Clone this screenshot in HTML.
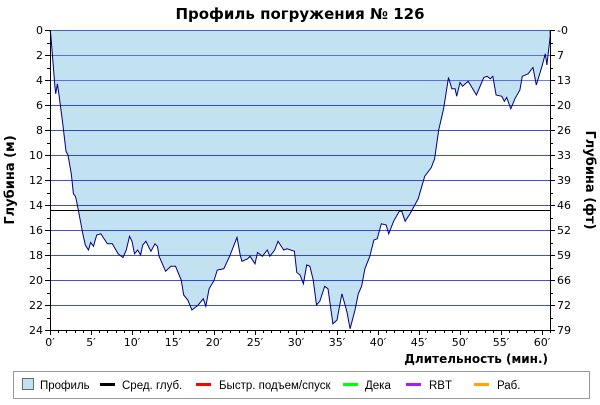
<!DOCTYPE html>
<html><head><meta charset="utf-8"><style>
body{margin:0;background:#fff}
svg text{font-family:"DejaVu Sans","Liberation Sans",sans-serif}
svg .lg{font-family:"Liberation Sans","DejaVu Sans",sans-serif}
</style></head><body>
<svg id="chart" width="600" height="400" xmlns="http://www.w3.org/2000/svg">
<text x="300" y="19" text-anchor="middle" font-size="15" font-weight="bold">Профиль погружения № 126</text>
<g id="grid"></g>
<g id="plot"></g>
<g id="axes"></g>
<text transform="translate(14,180) rotate(-90)" text-anchor="middle" font-size="13" font-weight="bold">Глубина (м)</text>
<text transform="translate(586,180) rotate(90)" text-anchor="middle" font-size="13" font-weight="bold">Глубина (фт)</text>
<text x="548" y="363" text-anchor="end" font-size="12" font-weight="bold">Длительность (мин.)</text>
<g>
<rect x="13.5" y="371.5" width="576" height="27" fill="#fff" stroke="#999"/>
<rect x="22.5" y="378.5" width="11" height="11" fill="#c2e2f2" stroke="#666"/>
<text class="lg" x="40" y="389" font-size="11.5">Профиль</text>
<rect x="100" y="383" width="15" height="3" fill="#000"/>
<text class="lg" x="122" y="389" font-size="11.5">Сред. глуб.</text>
<rect x="196" y="383" width="15" height="3" fill="#f00"/>
<text class="lg" x="219" y="389" font-size="11.5">Быстр. подъем/спуск</text>
<rect x="343" y="383" width="15" height="3" fill="#0f0"/>
<text class="lg" x="365" y="389" font-size="11.5">Дека</text>
<rect x="406" y="383" width="15" height="3" fill="#a020f0"/>
<text class="lg" x="429" y="389" font-size="11.5">RBT</text>
<rect x="474" y="383" width="15" height="3" fill="#ffa500"/>
<text class="lg" x="497" y="389" font-size="11.5">Раб.</text>
</g>
</svg>
<script>
const times=[0,0.1,0.3,0.6,0.7,0.9,1.1,1.5,1.95,2.2,2.6,2.85,3.1,3.25,3.6,4.0,4.3,4.7,4.95,5.3,5.7,6.2,7.0,7.6,8.3,8.9,9.3,9.7,10.0,10.3,10.7,11.05,11.3,11.7,12.3,12.8,13.1,13.3,14.1,14.75,15.3,16.0,16.3,16.8,17.3,18.0,18.7,19.0,19.4,20.0,20.4,21.2,21.9,22.8,23.2,23.4,24.1,24.4,25.0,25.3,25.9,26.5,26.8,27.4,27.8,28.5,28.9,29.8,30.1,30.5,30.9,31.3,31.7,32.1,32.5,32.9,33.5,33.9,34.5,35.0,35.6,36.2,36.6,37.2,37.6,38.0,38.4,39.0,39.5,39.9,40.4,41.0,41.3,41.9,42.6,42.9,43.3,43.9,44.9,45.7,46.5,46.9,47.4,48.0,48.6,49.0,49.4,49.6,50.0,50.3,51.0,52.0,52.9,53.3,53.7,54.0,54.4,55.1,55.4,55.7,56.2,56.7,57.3,57.6,58.3,58.9,59.3,60.0,60.4,60.6,61.0,61.0];
const depths=[0,0.4,2.1,4.5,5.1,4.3,5.2,7.2,9.7,10,11.5,13.1,13.3,13.7,14.9,16.3,17.2,17.6,17.0,17.3,16.4,16.3,17.1,17.1,17.9,18.2,17.6,16.5,16.9,17.9,17.6,18.0,17.2,16.9,17.7,17.1,17.3,18.1,19.3,18.9,18.9,20,21.2,21.6,22.4,22.05,21.5,22.1,20.7,20.05,19.2,19.1,18.1,16.6,18.0,18.5,18.3,18.1,18.7,17.8,18.1,17.6,18.1,17.6,16.9,17.6,17.5,17.7,19.4,19.6,20.3,18.8,18.9,20,22,21.7,20.5,20.7,23.5,23.2,21.1,22.5,23.9,22.4,21.1,20.5,19.1,18.1,16.8,16.7,15.5,15.6,16.3,15.3,14.5,14.5,15.3,14.7,13.5,11.7,11.0,10.3,8.0,6.3,3.8,4.7,4.7,5.3,4.2,4.5,4.1,5.2,3.8,3.7,3.9,3.7,5.2,5.3,5.7,5.4,6.3,5.5,4.8,3.7,3.5,3.0,4.4,2.9,1.9,2.8,0.5,0];
const avgDepth=[14.4];
const depthTicks=[0,2,4,6,8,10,12,14,16,18,20,22,24];
const ftLabels=["0","7","13","20","26","33","39","46","52","59","66","72","79"];
const timeTicks=[0,5,10,15,20,25,30,35,40,45,50,55,60];
const X0=50,X1=550,Y0=30,Y1=330,TMAX=500/8.2,DMAX=24;
const xs=t=>X0+t*(X1-X0)/TMAX, ys=d=>Y0+d*(Y1-Y0)/DMAX;
const NS="http://www.w3.org/2000/svg";
function mk(tag,parent,attrs){const e=document.createElementNS(NS,tag);for(const k in attrs)e.setAttribute(k,attrs[k]);parent.appendChild(e);return e;}
const grid=document.getElementById('grid'),plot=document.getElementById('plot'),axes=document.getElementById('axes');
let d='M'+xs(times[0])+','+Y0;
times.forEach((t,i)=>{d+=' L'+xs(t).toFixed(1)+','+ys(depths[i]).toFixed(1);});
d+=' L'+xs(times[times.length-1]).toFixed(1)+','+Y0+' Z';
const fill=mk('path',grid,{d:d,fill:'#c2e2f2',stroke:'none'});


depthTicks.forEach(v=>{if(v===0||v===24)return;const y=Math.round(ys(v))+0.5;
const g=mk('line',grid,{x1:X0,x2:X1,y1:y,y2:y,stroke:'#0010e0','stroke-opacity':v<6?0.55:0.75,'stroke-width':1});

});
const topg=mk('line',grid,{x1:X0,x2:X1,y1:Y0+0.5,y2:Y0+0.5,stroke:'#4060e0','stroke-width':1});


const ay=Math.round(ys(avgDepth[0]))+0.5;
const al=mk('line',plot,{x1:X0,x2:X1,y1:ay,y2:ay,stroke:'#000','stroke-width':1});


let pd='';times.forEach((t,i)=>{pd+=(i?' L':'M')+xs(t).toFixed(1)+','+ys(depths[i]).toFixed(1);});
const pl=mk('path',plot,{d:pd,fill:'none',stroke:'#000080','stroke-width':1});


const la=mk('line',axes,{x1:X0+0.5,x2:X0+0.5,y1:Y0,y2:Y1,stroke:'#000'});


const ra=mk('line',axes,{x1:X1+0.5,x2:X1+0.5,y1:Y0,y2:Y1,stroke:'#000'});


const ba=mk('line',axes,{x1:X0,x2:X1+1,y1:Y1+0.5,y2:Y1+0.5,stroke:'#000'});


for(let m=0;m<=24;m++){const y=Math.round(ys(m))+0.5;const L=m%2?3:5;
mk('line',axes,{x1:X0-L,x2:X0,y1:y,y2:y,stroke:'#000'});
mk('line',axes,{x1:X1,x2:X1+L,y1:y,y2:y,stroke:'#000'});}
depthTicks.forEach((v,i)=>{const y=ys(v);
const t=mk('text',axes,{x:X0-7,y:y+4,'text-anchor':'end','font-size':11});t.textContent=v;


const r=mk('text',axes,{x:X1+7,y:y+4,'font-size':11});r.textContent=(i===0?'-':'')+ftLabels[i];

});
for(let m=0;m<=61;m++){const x=Math.round(xs(m))+0.5;const L=m%5?3:5;
mk('line',axes,{x1:x,x2:x,y1:Y1,y2:Y1+L,stroke:'#000'});}
timeTicks.forEach(v=>{const t=mk('text',axes,{x:xs(v),y:Y1+16,'text-anchor':'middle','font-size':11});t.textContent=v+'′';

});
</script>
</body></html>
